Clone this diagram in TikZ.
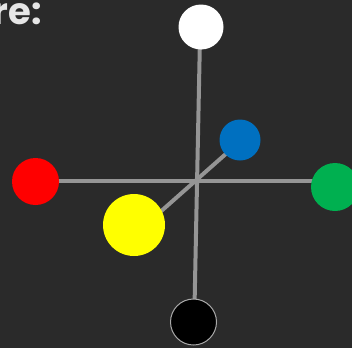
\documentclass[tikz,border=0pt]{standalone}
\usepackage{fontspec}
\newfontfamily\headfont{Poppins}
\definecolor{bg}{HTML}{2A2A2A}
\definecolor{linegray}{HTML}{959595}
\definecolor{ballblue}{HTML}{0070C0}
\definecolor{ballgreen}{HTML}{00B050}
\definecolor{ballred}{HTML}{FF0000}
\definecolor{ballyellow}{HTML}{FFFF00}
\definecolor{headtext}{HTML}{E6E6E6}
\begin{document}
\begin{tikzpicture}[x=1pt,y=-1pt,
  ball/.style={circle,inner sep=0pt,draw=none},
  axis/.style={draw=linegray,line width=4pt}]
\fill[bg] (0,0) rectangle (352,348);
\useasboundingbox (0,0) rectangle (352,348);
\node[anchor=base east,inner sep=0pt,text=headtext,font=\headfont\bfseries\fontsize{37}{40}\selectfont] (head) at (42,24) {re:};
\coordinate (v1) at (200.2,27);
\coordinate (v2) at (194.2,322);
\coordinate (h1) at (35.5,181);
\coordinate (h2) at (320,181);
\coordinate (d1) at (228,152);
\coordinate (d2) at (150,221);
\draw[axis] (v1) -- (v2);
\draw[axis] (h1) -- (h2);
\draw[axis] (d1) -- (d2);
\node[ball,fill=white,minimum size=45pt] (white) at (201,27) {};
\node[ball,fill=ballblue,minimum size=41pt] (blue) at (240,140) {};
\node[ball,fill=ballred,minimum size=47pt] (red) at (35.5,181.5) {};
\node[ball,fill=ballgreen,minimum size=48pt] (green) at (335,187) {};
\node[ball,fill=ballyellow,minimum size=62pt] (yellow) at (134,225) {};
\node[ball,fill=black,draw=linegray!80!white,line width=1pt,minimum size=46pt] (black) at (193.5,322) {};
\end{tikzpicture}
\end{document}
